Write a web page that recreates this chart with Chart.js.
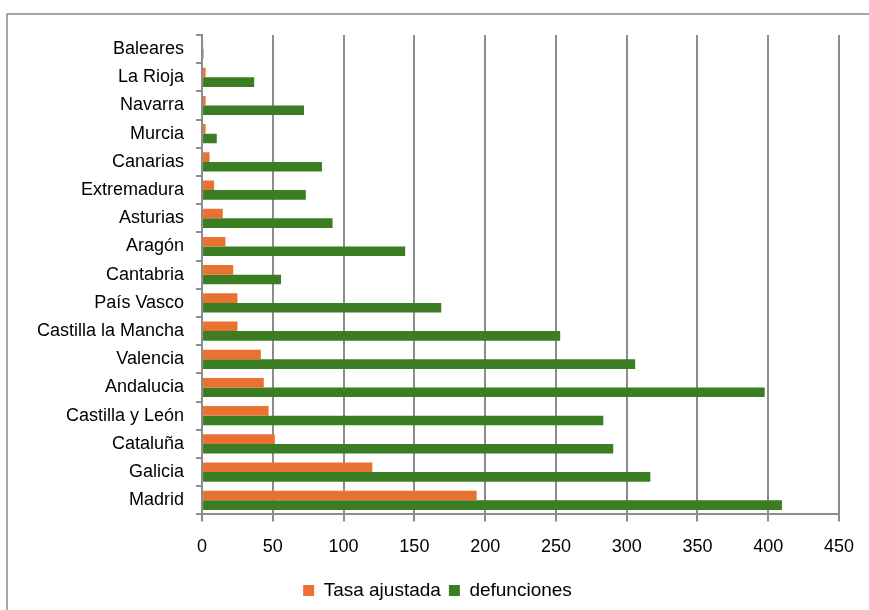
<!DOCTYPE html>
<html>
<head>
<meta charset="utf-8">
<script src="https://cdn.jsdelivr.net/npm/chart.js@4"></script>
<style>
  html, body { margin: 0; padding: 0; background: #fff; }
  #wrap { width: 869px; height: 610px; position: relative; }
</style>
</head>
<body>
<div id="wrap"><canvas id="regionChart"></canvas></div>
<script>
const regions = ["Baleares", "La Rioja", "Navarra", "Murcia", "Canarias", "Extremadura", "Asturias", "Aragón", "Cantabria", "País Vasco", "Castilla la Mancha", "Valencia", "Andalucia", "Castilla y León", "Cataluña", "Galicia", "Madrid"];
const tasaAjustada = [0.3, 2.5, 2.5, 2.5, 5.3, 8.5, 14.6, 16.5, 22, 25, 25, 41.5, 43.6, 47, 51.4, 120.3, 194];
const defunciones = [1, 36.8, 72, 10.4, 84.7, 73.3, 92.2, 143.5, 55.8, 169, 253, 306, 397.5, 283.5, 290.5, 316.7, 409.7];
const xTicks = [0, 50, 100, 150, 200, 250, 300, 350, 400, 450];

const frame = {
  id: "frame",
  beforeDraw(chart) {
    const c = chart.ctx;
    c.save();
    c.strokeStyle = "#8a8a8a";
    c.lineWidth = 1.5;
    c.strokeRect(7, 14, 900, 700);
    c.restore();
  },
};

const ctx = document.getElementById("regionChart");
new Chart(ctx, {
  type: "bar",
  data: {
    labels: regions,
    datasets: [
      {
        label: "Tasa ajustada",
        data: tasaAjustada,
        backgroundColor: "#e97132",
        categoryPercentage: 0.68,
        barPercentage: 1,
      },
      {
        label: "defunciones",
        data: defunciones,
        backgroundColor: "#3a7d22",
        categoryPercentage: 0.68,
        barPercentage: 1,
      },
    ],
  },
  options: {
    indexAxis: "y",
    responsive: true,
    maintainAspectRatio: false,
    animation: false,
    layout: { padding: { left: 25, right: 19, top: 35, bottom: 0 } },
    scales: {
      x: {
        min: 0,
        max: 450,
        afterBuildTicks(axis) {
          axis.ticks = xTicks.map((v) => ({ value: v }));
        },
        grid: { color: "#8c8c8c", lineWidth: 2, tickLength: 7 },
        border: { color: "#8c8c8c", width: 2 },
        ticks: { color: "#000", padding: 15, font: { family: "Liberation Sans", size: 18 } },
      },
      y: {
        grid: { drawOnChartArea: false, offset: true, color: "#8c8c8c", lineWidth: 2, tickLength: 6 },
        border: { color: "#8c8c8c", width: 2 },
        ticks: { color: "#000", padding: 12, autoSkip: false, font: { family: "Liberation Sans", size: 18 } },
      },
    },
    plugins: {
      legend: {
        position: "bottom",
        labels: {
          color: "#000",
          boxWidth: 11,
          boxHeight: 11,
          padding: 8,
          font: { family: "Liberation Sans", size: 19 },
        },
      },
      tooltip: { enabled: false },
    },
  },
  plugins: [frame],
});
</script>
</body>
</html>
